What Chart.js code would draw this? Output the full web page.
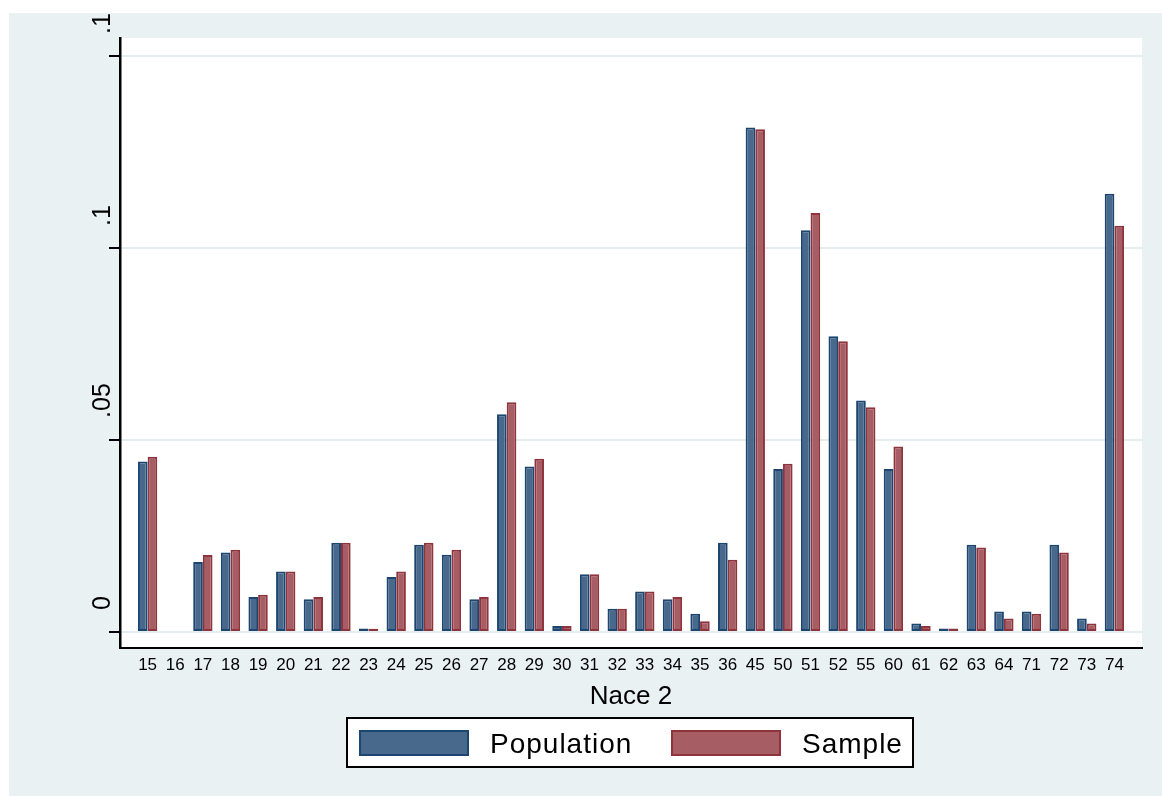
<!DOCTYPE html>
<html>
<head>
<meta charset="utf-8">
<title>Nace 2</title>
<script src="https://cdn.jsdelivr.net/npm/chart.js@4/dist/chart.umd.min.js"></script>
<style>
	html, body { margin: 0; padding: 0; background: #ffffff; }
	#chartBox { width: 1162px; height: 796px; }
</style>
</head>
<body>
<div id="chartBox"><canvas id="myChart" width="1162" height="796"></canvas></div>
<script>
// 데이터
let categories = ['15', '16', '17', '18', '19', '20', '21', '22', '23', '24', '25', '26', '27', '28', '29', '30', '31', '32', '33', '34', '35', '36',
	'45', '50', '51', '52', '55', '60', '61', '62', '63', '64', '71', '72', '73', '74'];
let population = [0.0444, 0, 0.0182, 0.0207, 0.0091, 0.0157, 0.0085, 0.0232, 0.0009, 0.0143, 0.0227, 0.0201, 0.0085, 0.0567, 0.0431, 0.0015, 0.0150, 0.0060, 0.0105, 0.0085, 0.0047, 0.0232,
	0.1314, 0.0424, 0.1046, 0.0770, 0.0603, 0.0424, 0.0022, 0.0009, 0.0227, 0.0053, 0.0053, 0.0227, 0.0035, 0.1141];
let sample = [0.0456, 0, 0.0200, 0.0214, 0.0097, 0.0157, 0.0091, 0.0232, 0.0008, 0.0157, 0.0232, 0.0214, 0.0091, 0.0598, 0.0451, 0.0015, 0.0150, 0.0060, 0.0105, 0.0091, 0.0028, 0.0188,
	0.1309, 0.0438, 0.1091, 0.0757, 0.0585, 0.0483, 0.0015, 0.0009, 0.0220, 0.0035, 0.0047, 0.0207, 0.0022, 0.1058];
let seriesNames = ['Population', 'Sample'];
let yTicks = [0, 0.05, 0.1, 0.15];
let yTickLabels = ['0', '.05', '.1', '.15'];

const FONT = '"Liberation Sans", Arial, sans-serif';

// 배경 / y축 라벨 / 범례
let stataPlugin = {
	id: 'stata',
	beforeDraw: function(chart) {
		let ctx = chart.ctx;
		let a = chart.chartArea;
		ctx.save();
		ctx.fillStyle = '#ffffff';
		ctx.fillRect(0, 0, chart.width, chart.height);
		ctx.fillStyle = '#eaf1f3';
		ctx.fillRect(9, 13, chart.width - 9, chart.height - 13);
		ctx.fillStyle = '#ffffff';
		ctx.fillRect(a.left, a.top, a.right - a.left, a.bottom - a.top);
		ctx.restore();
	},
	afterDraw: function(chart) {
		let ctx = chart.ctx;
		let yScale = chart.scales.y;

		// y축 라벨 (세로)
		ctx.save();
		ctx.beginPath();
		ctx.rect(9, 13, chart.width - 9, chart.height - 13);
		ctx.clip();
		ctx.fillStyle = '#000000';
		ctx.font = '25px ' + FONT;
		ctx.textAlign = 'left';
		ctx.textBaseline = 'alphabetic';
		for (let i = 0; i < yTicks.length; i++) {
			ctx.save();
			ctx.translate(110, yScale.getPixelForValue(yTicks[i]) - 22);
			ctx.rotate(-Math.PI / 2);
			ctx.fillText(yTickLabels[i], 0, 0);
			ctx.restore();
		}
		ctx.restore();

		// 범례
		ctx.save();
		ctx.fillStyle = '#ffffff';
		ctx.fillRect(347, 718, 566, 49);
		ctx.strokeStyle = '#000000';
		ctx.lineWidth = 2;
		ctx.strokeRect(347, 718, 566, 49);
		ctx.font = '28px ' + FONT;
		if ('letterSpacing' in ctx) ctx.letterSpacing = '1px';
		ctx.textAlign = 'left';
		ctx.textBaseline = 'alphabetic';
		chart.data.datasets.forEach(function(ds, i) {
			let x = 359 + i * 312;
			ctx.fillStyle = ds.backgroundColor;
			ctx.fillRect(x, 730, 110, 26);
			ctx.strokeStyle = ds.borderColor;
			ctx.lineWidth = 2;
			ctx.strokeRect(x + 1, 731, 108, 24);
			ctx.fillStyle = '#000000';
			ctx.fillText(ds.label, x + 131, 753);
		});
		ctx.restore();
	}
};

window.addEventListener("load", function() {
	let data = {
		datasets: [
			{
				label: seriesNames[0],
				backgroundColor: '#48698c',
				borderColor: '#1c4670',
				borderWidth: 2,
				borderSkipped: false,
				categoryPercentage: 0.7,
				barPercentage: 1,
				data: population.map((v, i) => ({ x: i, y: v }))
			},
			{
				label: seriesNames[1],
				backgroundColor: '#a65d63',
				borderColor: '#8f343c',
				borderWidth: 2,
				borderSkipped: false,
				categoryPercentage: 0.7,
				barPercentage: 1,
				data: sample.map((v, i) => ({ x: i, y: v }))
			}
		]
	};

	let options = {
		responsive: false,
		animation: false,
		devicePixelRatio: 1,
		layout: { padding: { top: 38, right: 20, bottom: 78, left: 0 } },
		plugins: {
			legend: { display: false },
			tooltip: { enabled: false }
		},
		scales: {
			x: {
				type: 'linear',
				min: -1,
				max: categories.length,
				offset: false,
				grid: { display: false, drawTicks: false, offset: false },
				border: { display: true, color: '#000000', width: 2 },
				ticks: {
					stepSize: 1,
					autoSkip: false,
					maxRotation: 0,
					minRotation: 0,
					padding: 7,
					color: '#000000',
					font: { family: FONT, size: 17 },
					callback: function(v) { return categories[v] !== undefined ? categories[v] : ''; }
				},
				title: {
					display: true,
					text: 'Nace 2',
					color: '#000000',
					font: { family: FONT, size: 26 },
					padding: { top: 0, bottom: 6 }
				},
				afterFit: function(s) { s.height = 70; }
			},
			y: {
				min: -0.0042,
				max: 0.1547,
				afterBuildTicks: function(s) { s.ticks = yTicks.map(v => ({ value: v })); },
				ticks: { display: false },
				grid: { color: '#e4edf0', lineWidth: 2, drawTicks: true, tickLength: 11, tickColor: '#000000', tickWidth: 2 },
				border: { color: '#000000', width: 2.5 },
				afterFit: function(s) { s.width = 120; }
			}
		}
	};

	const ctx = document.getElementById('myChart').getContext('2d');

	let myChart = new Chart(ctx, {
		type: 'bar',
		data: data,
		options: options,
		plugins: [stataPlugin]
	});
})
</script>
</body>
</html>
